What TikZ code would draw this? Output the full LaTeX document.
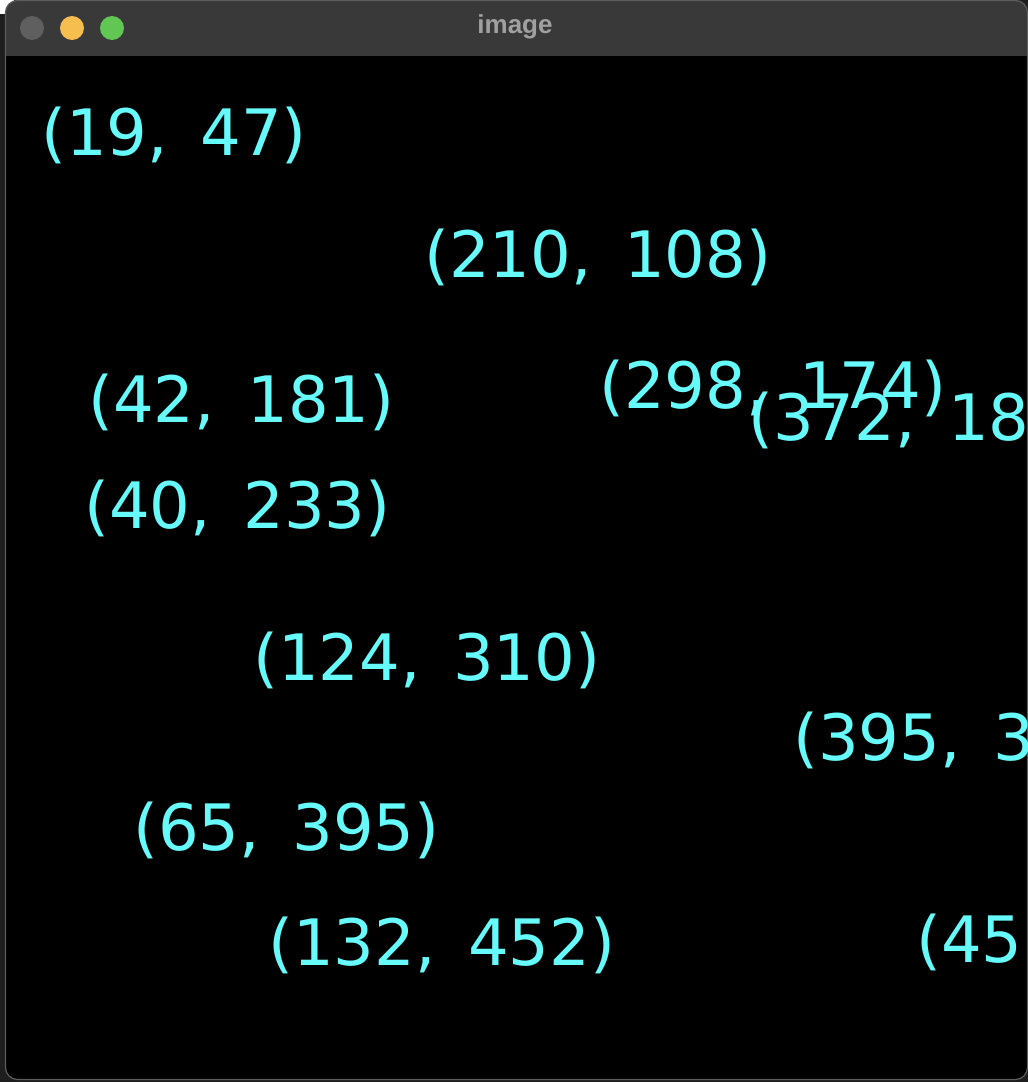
\documentclass[tikz,border=0pt]{standalone}
\usepackage{fontspec}
\setmainfont{DejaVu Sans}[WordSpace=1.6]
\newfontfamily\titlefont{Liberation Sans}
\definecolor{labelcyan}{RGB}{102,250,250}
\definecolor{outerdark}{RGB}{30,30,30}
\definecolor{titlebar}{RGB}{57,57,57}
\definecolor{winborder}{RGB}{92,92,92}
\definecolor{titletext}{RGB}{160,160,160}
\definecolor{lightgray}{RGB}{95,95,95}
\definecolor{lightyellow}{RGB}{246,190,79}
\definecolor{lightgreen}{RGB}{98,198,84}
\begin{document}
\begin{tikzpicture}[x=1pt,y=-1pt,
  coord/.style={text=labelcyan, font=\fontsize{64}{64}\selectfont, inner sep=0pt, anchor=base west},
  lamp/.style={circle, inner sep=0pt, minimum size=24pt}]
\useasboundingbox (0,0) rectangle (1028,1082);
\fill[outerdark] (0,0) rectangle (1028,1082);
\fill[white] (0,0) rectangle (14,14);
% window body
\fill[black, rounded corners=12pt] (5.5,0.5) rectangle (1027.5,1079.5);
\begin{scope}
  \clip[rounded corners=12pt] (5.5,0.5) rectangle (1027.5,1079.5);
  \fill[titlebar] (0,0) rectangle (1028,56);
\end{scope}
\draw[winborder, line width=1.2pt, rounded corners=12pt] (5.5,0.5) rectangle (1027.5,1079.5);
% traffic lights and title
\node[lamp, fill=lightgray] (close) at (32,28) {};
\node[lamp, fill=lightyellow] (minimize) at (72,28) {};
\node[lamp, fill=lightgreen] (zoom) at (112,28) {};
\node[text=titletext, font=\titlefont\bfseries\fontsize{26}{26}\selectfont, inner sep=0pt] (title) at (515,27) {image};
% coordinate labels
\begin{scope}
\clip (6,56) rectangle (1028,1078);
\node[coord] (p1) at (41,155) {(19, 47)};
\node[coord] (p2) at (424,277) {(210, 108)};
\node[coord] (p3) at (88,422) {(42, 181)};
\node[coord] (p4) at (599,408) {(298, 174)};
\node[coord] (p5) at (748,440) {(372, 18};
\node[coord] (p6) at (84,528) {(40, 233)};
\node[coord] (p7) at (253,680) {(124, 310)};
\node[coord] (p8) at (793,760) {(395, 3};
\node[coord] (p9) at (133,850) {(65, 395)};
\node[coord] (p10) at (268,965) {(132, 452)};
\node[coord] (p11) at (916,962) {(45};
\end{scope}
\end{tikzpicture}
\end{document}
